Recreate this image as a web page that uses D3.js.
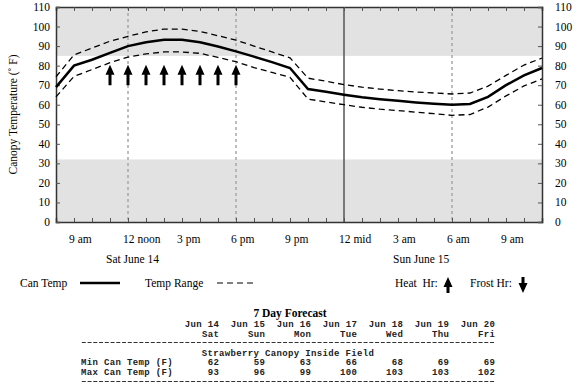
<!DOCTYPE html>
<html>
<head>
<meta charset="utf-8">
<script src="https://cdn.jsdelivr.net/npm/d3@7"></script>
<style>
  body { margin: 0; background: #fff; }
  svg { display: block; }
</style>
</head>
<body>
<svg></svg>
<script>
// hourly readings, 8 am Sat June 14 to 11 am Sun June 15
let canTemp = [69, 80, 83, 86.5, 90, 92, 93.3, 93.3, 92, 89.8, 87.3, 84.6, 81.8, 78.8,
    68, 66.6, 65.1, 63.8, 62.8, 62, 61.2, 60.5, 60, 60.4, 64, 70, 75, 78.8]
let tempHigh = [74.3, 85.5, 89, 92.5, 95, 97.3, 98.7, 98.7, 97.5, 95.3, 93, 90, 87, 84,
    73.6, 72, 70.3, 69, 68, 67.2, 66.5, 66, 65.5, 66, 69.5, 75, 80.3, 83.9]
let tempLow = [64, 74.5, 78, 81.5, 84.4, 86, 87, 87, 86.3, 84.2, 82, 79, 76.5, 74,
    62.9, 61.4, 60, 58.7, 57.7, 57, 56.2, 55.4, 54.6, 55, 58.8, 64.5, 69.6, 73.2]
let heatHours = [11, 12, 13, 14, 15, 16, 17, 18]
let frostHours = []

let tickHours = [9, 12, 15, 18, 21, 24, 27, 30, 33]
let tickNames = ['9 am', '12 noon', '3 pm', '6 pm', '9 pm', '12 mid', '3 am', '6 am', '9 am']
let dayNames = ['Sat June 14', 'Sun June 15']
let yTicks = [0, 10, 20, 30, 40, 50, 60, 70, 80, 90, 100, 110]

let fcDates = ['Jun 14', 'Jun 15', 'Jun 16', 'Jun 17', 'Jun 18', 'Jun 19', 'Jun 20']
let fcDays = ['Sat', 'Sun', 'Mon', 'Tue', 'Wed', 'Thu', 'Fri']
let fcMin = [62, 59, 63, 66, 68, 69, 69]
let fcMax = [93, 96, 99, 100, 103, 103, 102]

let width = 581
let height = 386
let padLeft = 56, padRight = 542, padTop = 7, padBottom = 222
let serif = '"Liberation Serif", serif'
let mono = '"Liberation Mono", monospace'
let lfont = '11.5px ' + serif

let svg = d3.select('svg').attr('width', width).attr('height', height)

let startDate = new Date(2008, 5, 14, 8)
let hourDate = (h) => new Date(2008, 5, 14, h)

let xScale = d3.scaleTime()
    .domain([startDate, hourDate(35)])
    .range([padLeft, padRight])
let yScale = d3.scaleLinear()
    .domain([0, 110])
    .range([padBottom, padTop])

let hourX = (i) => xScale(hourDate(8 + i))

// shaded bands
svg.append('rect')
    .attr('x', padLeft).attr('width', padRight - padLeft)
    .attr('y', yScale(110)).attr('height', yScale(85) - yScale(110))
    .attr('fill', '#e2e2e2')
svg.append('rect')
    .attr('x', padLeft).attr('width', padRight - padLeft)
    .attr('y', yScale(32)).attr('height', yScale(0) - yScale(32))
    .attr('fill', '#e2e2e2')

// vertical guides
svg.selectAll('.guide')
    .data([12, 18, 30])
    .enter()
    .append('line')
    .attr('class', 'guide')
    .attr('x1', (d) => xScale(hourDate(d)))
    .attr('x2', (d) => xScale(hourDate(d)))
    .attr('y1', padTop).attr('y2', padBottom)
    .attr('stroke', '#a8a8a8')
    .attr('stroke-width', 1.5)
    .attr('stroke-dasharray', '3,3')
svg.append('line')
    .attr('x1', xScale(hourDate(24))).attr('x2', xScale(hourDate(24)))
    .attr('y1', padTop).attr('y2', padBottom)
    .attr('stroke', '#555').attr('stroke-width', 1.5)

// axes with inward ticks
let hourTicks = d3.range(8, 36).map(hourDate)
svg.append('g')
    .attr('transform', 'translate(0,' + padBottom + ')')
    .call(d3.axisBottom(xScale).tickValues(hourTicks).tickSize(-4).tickFormat(''))
svg.append('g')
    .attr('transform', 'translate(0,' + padTop + ')')
    .call(d3.axisTop(xScale).tickValues(hourTicks).tickSize(-4).tickFormat(''))
svg.append('g')
    .attr('transform', 'translate(' + padLeft + ',0)')
    .call(d3.axisLeft(yScale).tickValues(yTicks).tickSize(-4).tickFormat(''))
svg.append('g')
    .attr('transform', 'translate(' + padRight + ',0)')
    .call(d3.axisRight(yScale).tickValues(yTicks).tickSize(-4).tickFormat(''))
svg.selectAll('.domain').attr('stroke', '#333').attr('stroke-width', 1.5)
svg.selectAll('.tick line').attr('stroke', '#555')

// y labels both sides
svg.selectAll('.ylab')
    .data(yTicks)
    .enter()
    .append('text')
    .attr('x', padLeft - 6)
    .attr('y', (d) => yScale(d) + 4)
    .attr('text-anchor', 'end')
    .style('font', lfont)
    .text((d) => d)
svg.selectAll('.ylabr')
    .data(yTicks)
    .enter()
    .append('text')
    .attr('x', padRight + 13)
    .attr('y', (d) => yScale(d) + 4)
    .style('font', lfont)
    .text((d) => d)

svg.append('text')
    .attr('transform', 'translate(17,' + (padBottom + padTop) / 2 + ') rotate(-90)')
    .attr('text-anchor', 'middle')
    .style('font', lfont)
    .text('Canopy Temperature (\u02DA F)')

// x labels
svg.selectAll('.xlab')
    .data(tickHours)
    .enter()
    .append('text')
    .attr('x', (d) => xScale(hourDate(d)) - 5)
    .attr('y', 243)
    .style('font', lfont)
    .text((d, i) => tickNames[i])
svg.selectAll('.daylab')
    .data(dayNames)
    .enter()
    .append('text')
    .attr('x', (d, i) => i == 0 ? 106 : 393)
    .attr('y', 263)
    .style('font', lfont)
    .text((d) => d)

// temperature lines
let line = d3.line()
    .x((d, i) => hourX(i))
    .y((d) => yScale(d))
svg.append('path')
    .datum(tempHigh)
    .attr('d', line)
    .attr('fill', 'none').attr('stroke', '#000')
    .attr('stroke-width', 1.3).attr('stroke-dasharray', '6,4')
svg.append('path')
    .datum(tempLow)
    .attr('d', line)
    .attr('fill', 'none').attr('stroke', '#000')
    .attr('stroke-width', 1.3).attr('stroke-dasharray', '6,4')
svg.append('path')
    .datum(canTemp)
    .attr('d', line)
    .attr('fill', 'none').attr('stroke', '#000')
    .attr('stroke-width', 2.5)

// arrow shape, pointing up, tip at x,y
let arrowUp = (x, y, h) => {
    return 'M' + x + ',' + y + ' l-4.5,10 h3 v' + (h - 10) + ' h3 v' + (-(h - 10)) + ' h3 z'
}
svg.selectAll('.heat')
    .data(heatHours)
    .enter()
    .append('path')
    .attr('d', (d) => arrowUp(xScale(hourDate(d)), yScale(80.5), yScale(70) - yScale(80.5)))
    .attr('fill', '#000')

// legend
svg.append('text').attr('x', 20).attr('y', 287).style('font', lfont).text('Can Temp')
svg.append('line').attr('x1', 80).attr('x2', 120).attr('y1', 283).attr('y2', 283)
    .attr('stroke', '#000').attr('stroke-width', 2.5)
svg.append('text').attr('x', 145).attr('y', 287).style('font', lfont).text('Temp Range')
svg.append('line').attr('x1', 217).attr('x2', 257).attr('y1', 283).attr('y2', 283)
    .attr('stroke', '#000').attr('stroke-width', 1.2).attr('stroke-dasharray', '6,4')
svg.append('text').attr('x', 395).attr('y', 287).style('font', lfont)
    .style('white-space', 'pre').text('Heat  Hr:')
svg.append('path').attr('d', arrowUp(448, 277, 16)).attr('fill', '#000')
svg.append('text').attr('x', 470).attr('y', 287).style('font', lfont).text('Frost Hr:')
svg.append('path').attr('d', arrowUp(523, 277, 16)).attr('fill', '#000')
    .attr('transform', 'rotate(180,523,285)')

// forecast table
let cw = 5.75
let tx = 81
let colEnd = (i) => tx + (24 + 8 * i) * cw
let tsize = 9
let tfont = '600 ' + tsize + 'px ' + mono
let tspace = cw - tsize * 0.6

let monoText = (sel) => sel.style('font', tfont).style('letter-spacing', tspace + 'px').attr('fill', '#222')

svg.append('text').attr('x', 290).attr('y', 317).attr('text-anchor', 'middle')
    .style('font', 'bold 11.5px ' + serif).text('7 Day Forecast')

let rows = [[fcDates, 327], [fcDays, 337], [fcMin, 365], [fcMax, 375]]
rows.forEach((r) => {
    svg.selectAll(null)
        .data(r[0])
        .enter()
        .append('text')
        .attr('x', (d, i) => colEnd(i) + tspace)
        .attr('y', r[1])
        .attr('text-anchor', 'end')
        .call(monoText)
        .text((d) => d)
})
svg.append('text').attr('x', tx).attr('y', 365).call(monoText).style('white-space', 'pre').text('Min Can Temp (F)')
svg.append('text').attr('x', tx).attr('y', 375).call(monoText).style('white-space', 'pre').text('Max Can Temp (F)')
svg.append('text').attr('x', tx + 21 * cw).attr('y', 356).call(monoText).text('Strawberry Canopy Inside Field')

// dashed rules of the table
svg.selectAll('.rule')
    .data([342.5, 381.5])
    .enter()
    .append('line')
    .attr('x1', tx + 0.8).attr('x2', tx + 72 * cw)
    .attr('y1', (d) => d).attr('y2', (d) => d)
    .attr('stroke', '#333')
    .attr('stroke-width', 1)
    .attr('stroke-dasharray', '4,1.75')
</script>
</body>
</html>
